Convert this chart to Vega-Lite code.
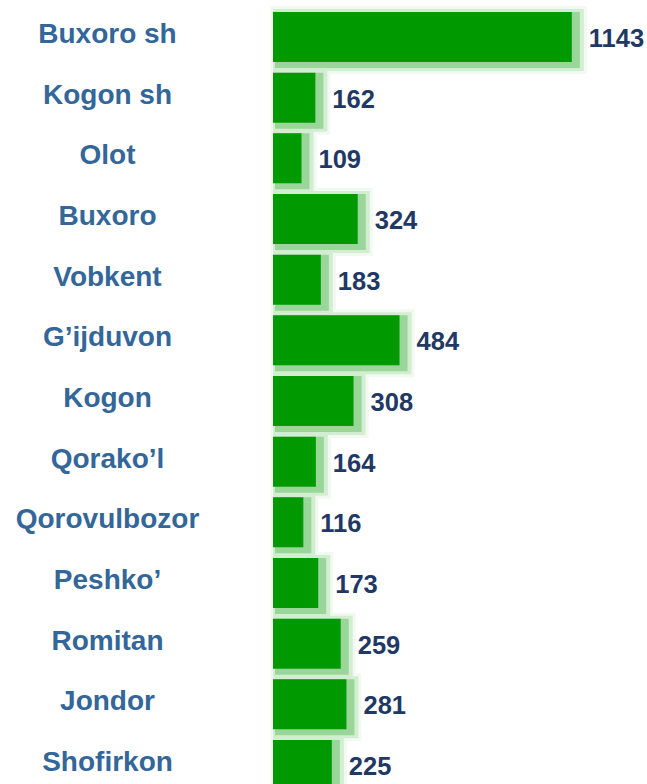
{
  "$schema": "https://vega.github.io/schema/vega-lite/v6.json",
  "autosize": {"type": "none"},
  "padding": {"left": 273, "top": 0, "right": 8, "bottom": 0},
  "width": 366,
  "height": 802,
  "background": "white",
  "config": {"view": {"stroke": null}},
  "data": {"values": [
    {"region": "Buxoro sh", "value": 1143},
    {"region": "Kogon sh", "value": 162},
    {"region": "Olot", "value": 109},
    {"region": "Buxoro", "value": 324},
    {"region": "Vobkent", "value": 183},
    {"region": "G’ijduvon", "value": 484},
    {"region": "Kogon", "value": 308},
    {"region": "Qorako’l", "value": 164},
    {"region": "Qorovulbozor", "value": 116},
    {"region": "Peshko’", "value": 173},
    {"region": "Romitan", "value": 259},
    {"region": "Jondor", "value": 281},
    {"region": "Shofirkon", "value": 225}
  ]},
  "encoding": {
    "y": {
      "field": "region", "type": "nominal", "sort": null,
      "scale": {"paddingInner": 0.176, "paddingOuter": 0.198},
      "axis": {
        "title": null, "domain": false, "ticks": false,
        "labelAlign": "center", "labelPadding": 166, "labelOffset": -2,
        "labelFont": "Liberation Sans", "labelFontWeight": "bold",
        "labelFontSize": 28, "labelColor": "#336699", "labelLimit": 300
      }
    },
    "x": {
      "field": "value", "type": "quantitative",
      "scale": {"domain": [0, 1400], "nice": false, "zero": true},
      "axis": null
    }
  },
  "layer": [
    {"mark": {"type": "bar", "fill": "#f1f9f1", "stroke": "#f1f9f1", "strokeWidth": 18, "xOffset": 6, "yOffset": 3}},
    {"mark": {"type": "bar", "fill": "#d3edd3", "stroke": "#d3edd3", "strokeWidth": 12, "xOffset": 6, "yOffset": 3}},
    {"mark": {"type": "bar", "fill": "#9ad59a", "stroke": "#9ad59a", "strokeWidth": 6, "xOffset": 5, "yOffset": 3}},
    {"mark": {"type": "bar", "fill": "#009900"}},
    {
      "mark": {"type": "text", "align": "left", "baseline": "middle", "dx": 17, "dy": 2,
               "font": "Liberation Sans", "fontWeight": "bold", "fontSize": 25.5, "fill": "#1f3864"},
      "encoding": {"text": {"field": "value", "type": "quantitative"}}
    }
  ]
}
